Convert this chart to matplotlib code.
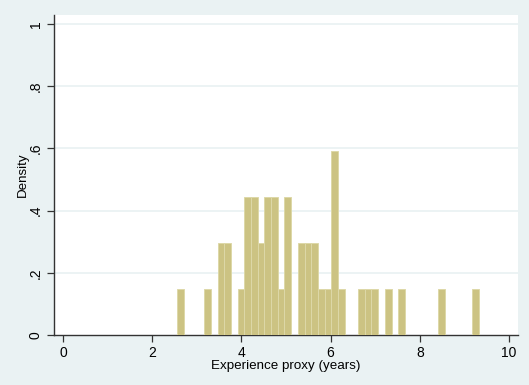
import matplotlib
matplotlib.use("Agg")
import matplotlib.pyplot as plt

# Histogram bins (left edges, years) and counts per bin
bin_left = [2.565, 3.165, 3.465, 3.615, 3.915, 4.065, 4.215, 4.365, 4.515, 4.665,
            4.815, 4.965, 5.265, 5.415, 5.565, 5.715, 5.865, 6.015, 6.165,
            6.615, 6.765, 6.915, 7.215, 7.515, 8.415, 9.165]
counts = [1, 1, 2, 2, 1, 3, 3, 2, 3, 3,
          1, 3, 2, 2, 2, 1, 1, 4, 1,
          1, 1, 1, 1, 1, 1, 1]
bin_width = 0.15
n_obs = 45
density = [c / (n_obs * bin_width) for c in counts]

x_ticks = [0, 2, 4, 6, 8, 10]
y_ticks = [0, 0.2, 0.4, 0.6, 0.8, 1.0]
y_tick_labels = ["0", ".2", ".4", ".6", ".8", "1"]

bg = "#EAF2F3"
plt.rcParams["font.family"] = ["Liberation Sans", "DejaVu Sans"]

fig = plt.figure(figsize=(5.29, 3.85), dpi=100, facecolor=bg)
ax = fig.add_axes([54 / 529, 1 - 335 / 385, (518 - 54) / 529, (335 - 15) / 385])
ax.set_facecolor("white")

ax.bar(bin_left, density, width=bin_width, align="edge",
       color="#CCC383", edgecolor="#DDD8A8", linewidth=0.7, zorder=3)

ax.set_xlim(-0.2, 10.2)
ax.set_ylim(0, 1.029)
ax.set_xticks(x_ticks)
ax.set_yticks(y_ticks)
ax.set_yticklabels(y_tick_labels, rotation=90, va="center")
for t in y_ticks[1:]:
    ax.axhline(t, color=bg, linewidth=1.3, zorder=1)

for s in ["top", "right"]:
    ax.spines[s].set_visible(False)
for s in ["left", "bottom"]:
    ax.spines[s].set_color("#333333")
    ax.spines[s].set_linewidth(1.0)

ax.tick_params(axis="both", direction="out", length=5, width=0.9, color="#333333",
               labelsize=10, labelcolor="black", pad=3)

ax.set_xlabel("Experience proxy (years)", fontsize=9.6, labelpad=0)
ax.set_ylabel("Density", fontsize=9.6, labelpad=0)

fig.savefig("out.png", dpi=100, facecolor=bg)
